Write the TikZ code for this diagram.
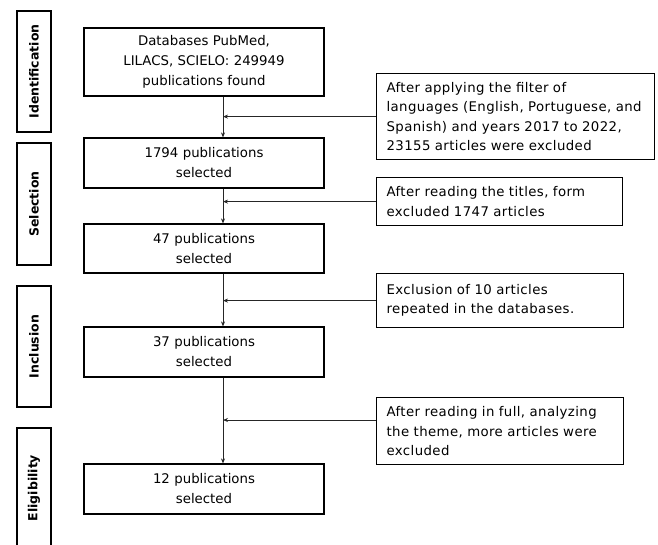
\documentclass[tikz,border=0pt]{standalone}
\usepackage{fontspec}
\setmainfont{DejaVu Sans}
\newfontfamily\notefont{DejaVu Sans}[LetterSpace=3]
\usetikzlibrary{arrows.meta}
\begin{document}
\begin{tikzpicture}[x=1pt,y=-1pt,
  box/.style={draw=black, line width=1.2pt, inner sep=0pt},
  mainbox/.style={box, minimum width=240pt, text width=224pt, align=center, font=\fontsize{13.3}{20}\selectfont},
  notebox/.style={box, anchor=north west, inner xsep=10pt, align=left, font=\notefont\fontsize{13.3}{19.2}\selectfont},
  phase/.style={box, rotate=90, minimum height=34pt, font=\fontsize{12.5}{15}\selectfont\bfseries},
  conn/.style={draw=black!85, line width=0.9pt, -{Stealth[length=5pt,width=4pt]}}
]
\useasboundingbox (0,0) rectangle (658,544);
\clip (0,0) rectangle (658,544);
\fill[white] (0,0) rectangle (658,544);

% phase labels
\node[phase, minimum width=121pt] (pid) at (34,71.5) {Identification};
\node[phase, minimum width=122pt] (psel) at (34,204) {Selection};
\node[phase, minimum width=121pt] (pinc) at (34,346.5) {Inclusion};
\node[phase, minimum width=120pt] (pel) at (34,488) {Eligibility};

% main boxes
\node[mainbox, minimum height=68pt] (b1) at (204,62) {Databases PubMed,\\LILACS, SCIELO: 249949\\publications found};
\node[mainbox, minimum height=50pt] (b2) at (204,163) {1794 publications\\selected};
\node[mainbox, minimum height=49pt] (b3) at (204,248.5) {47 publications\\selected};
\node[mainbox, minimum height=50pt] (b4) at (204,352) {37 publications\\selected};
\node[mainbox, minimum height=50pt] (b5) at (204,489) {12 publications\\selected};

% exclusion notes
\node[notebox, text width=258pt, minimum height=86pt] (r1) at (376,73) {After applying the filter of\\languages (English, Portuguese, and\\Spanish) and years 2017 to 2022,\\23155 articles were excluded};
\node[notebox, text width=226pt, minimum height=48pt] (r2) at (376,177) {After reading the titles, form\\excluded 1747 articles};
\node[notebox, text width=227pt, minimum height=54pt] (r3) at (376,273) {Exclusion of 10 articles\\repeated in the databases.};
\node[notebox, text width=227pt, minimum height=67pt] (r4) at (376,397) {After reading in full, analyzing\\the theme, more articles were\\excluded};

% connectors
\coordinate (vx) at (223,0);
\draw[conn] (b1.south -| vx) -- (b2.north -| vx);
\draw[conn] (b2.south -| vx) -- (b3.north -| vx);
\draw[conn] (b3.south -| vx) -- (b4.north -| vx);
\draw[conn] (b4.south -| vx) -- (b5.north -| vx);
\draw[conn] (r1.west) -- (r1.west -| vx);
\draw[conn] (r2.west) -- (r2.west -| vx);
\draw[conn] (r3.west) -- (r3.west -| vx);
\coordinate (r4a) at ([yshift=-23pt]r4.north west);
\draw[conn] (r4a) -- (r4a -| vx);
\end{tikzpicture}
\end{document}
